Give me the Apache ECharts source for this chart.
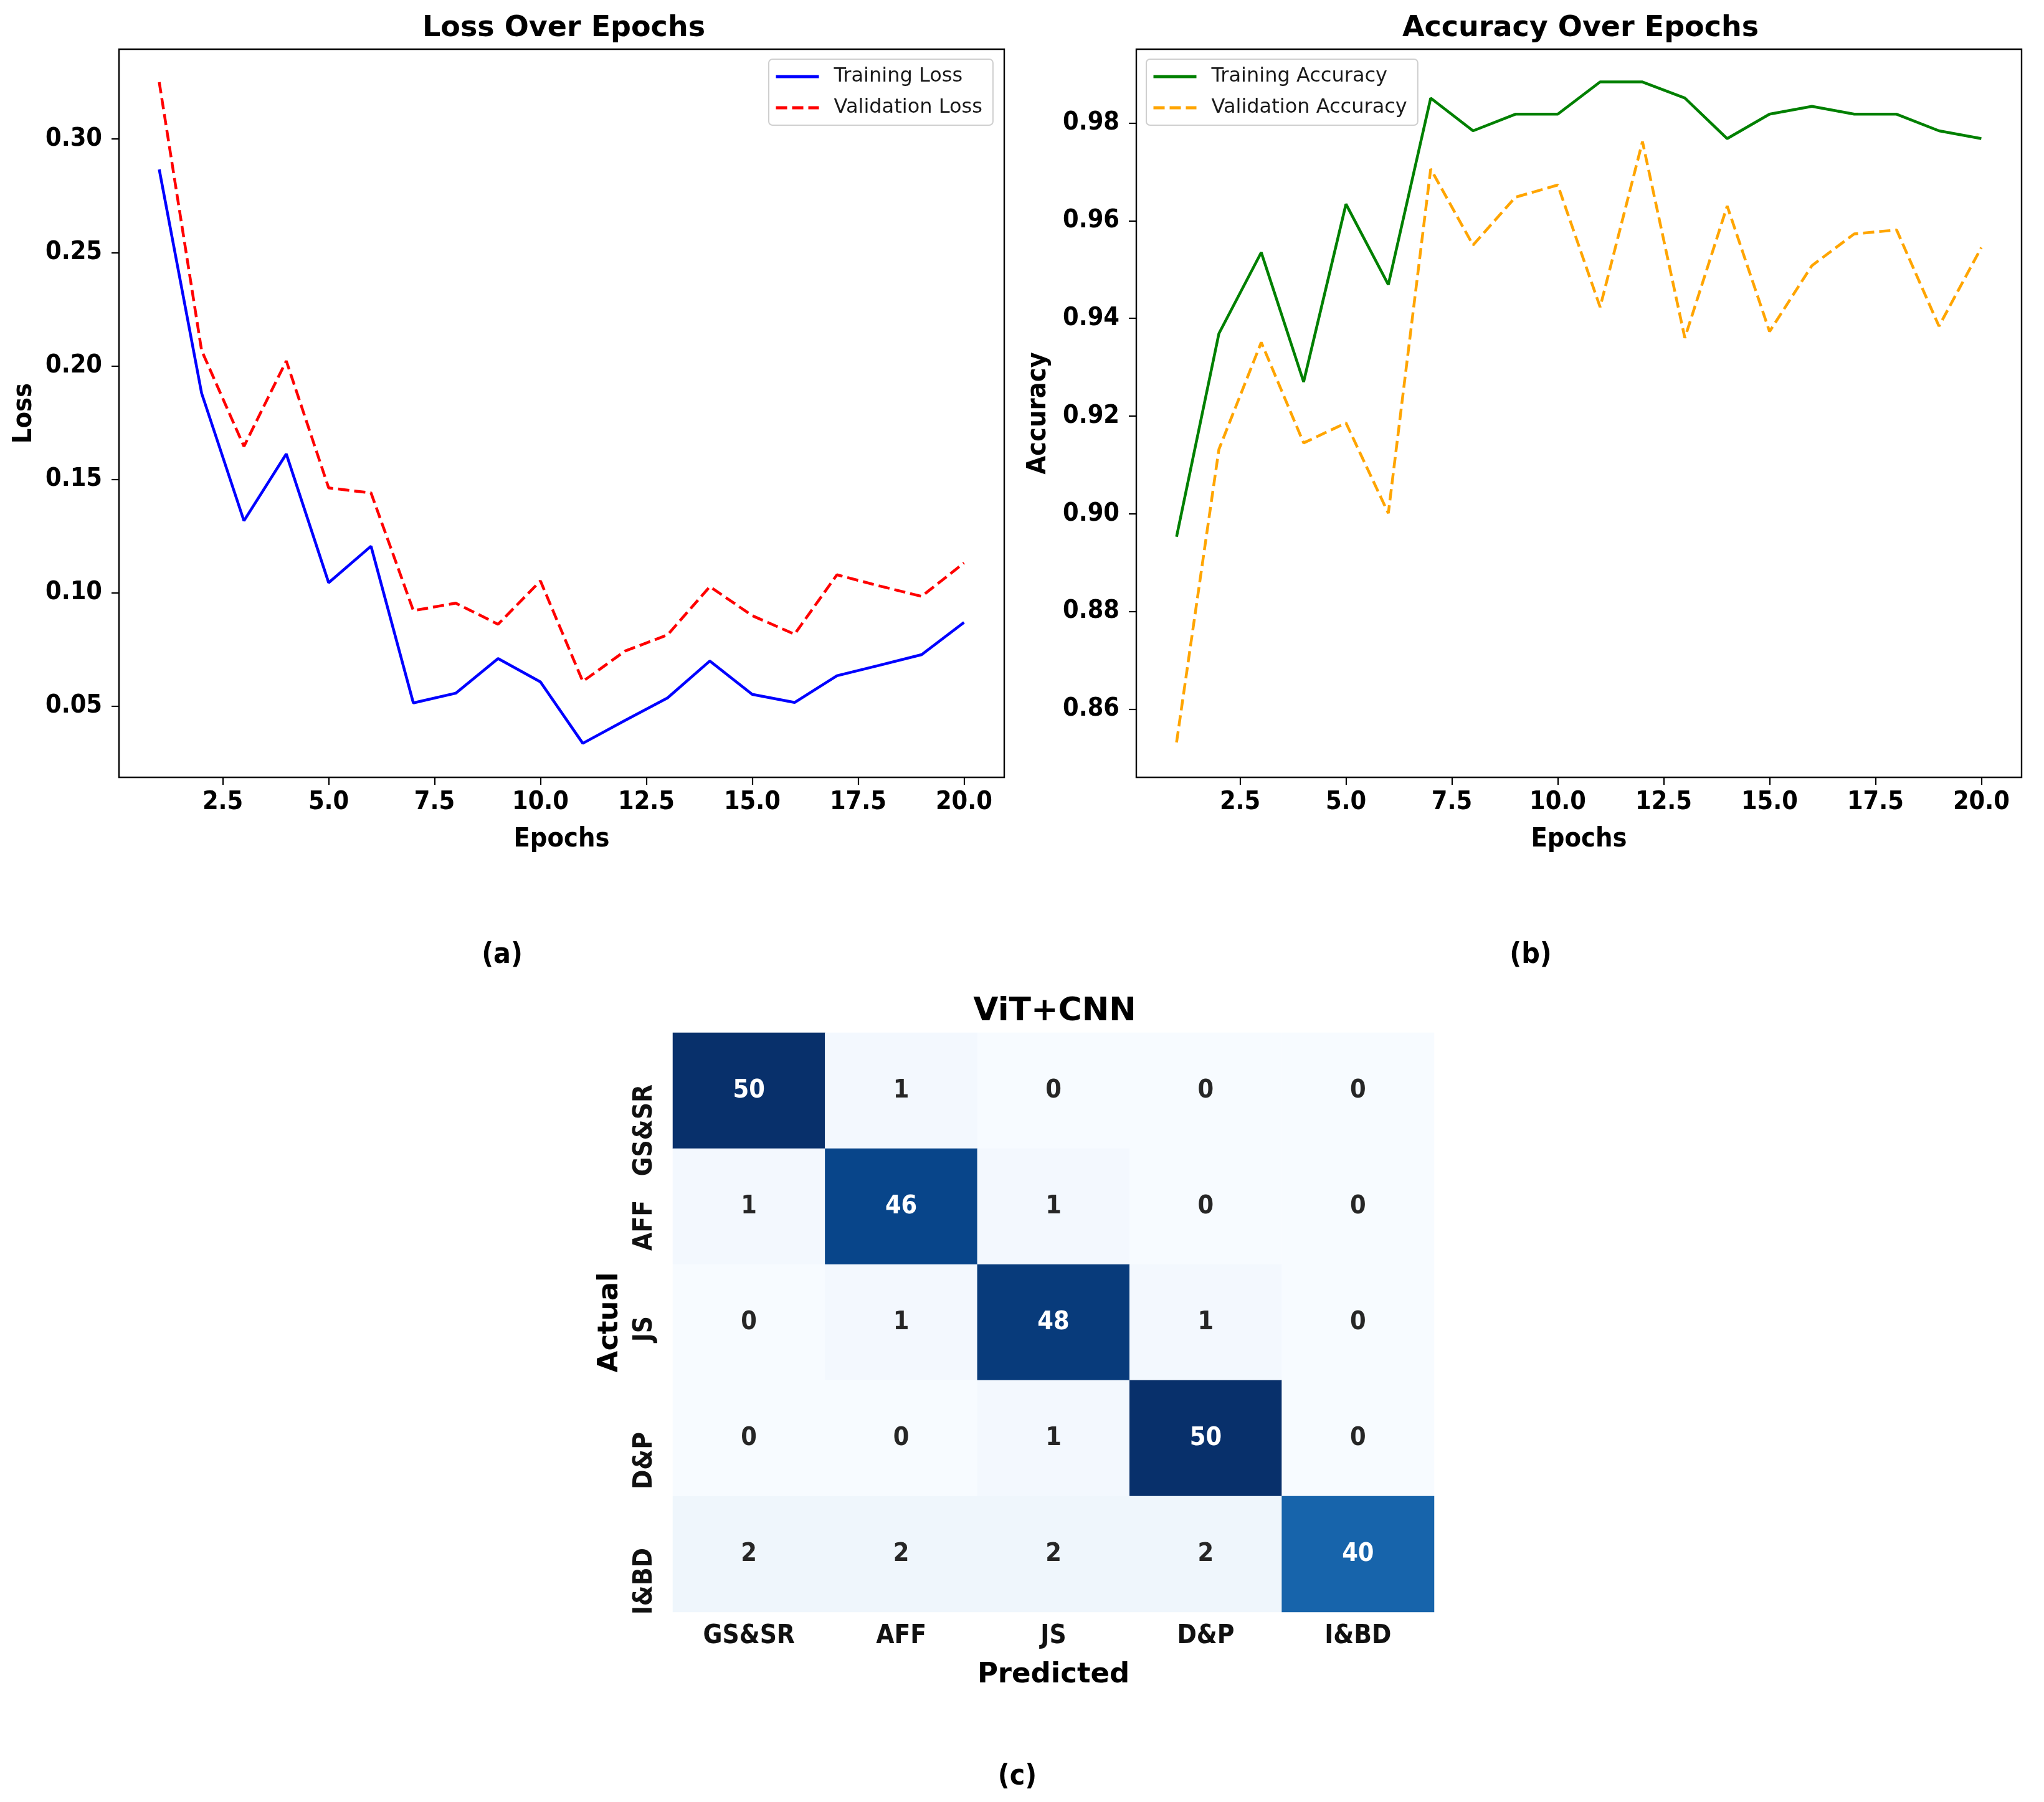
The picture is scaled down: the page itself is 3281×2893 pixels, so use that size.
<!DOCTYPE html>
<html><head><meta charset="utf-8">
<style>html,body{margin:0;padding:0;background:#fff}#c{width:3281px;height:2893px}</style>
<script src="https://cdn.jsdelivr.net/npm/echarts@6/dist/echarts.min.js"></script>
</head><body><div id="c"></div>
<script>
const epochs=[1,2,3,4,5,6,7,8,9,10,11,12,13,14,15,16,17,18,19,20];
const trainLoss=[.2866,.188,.1317,.1612,.1044,.1205,.0514,.0557,.071,.0607,.0336,.0437,.0536,.0699,.0552,.0516,.0634,.068,.0727,.0869];
const valLoss=[.3251,.2068,.1645,.2022,.1462,.144,.0921,.0954,.0861,.1052,.0609,.0743,.0814,.1027,.0899,.0817,.1079,.103,.0984,.1131];
const trainAcc=[.8953,.9369,.9535,.927,.9634,.9469,.9851,.9784,.9818,.9818,.9884,.9884,.9851,.9768,.9818,.9834,.9818,.9818,.9784,.9768];
const valAcc=[.8532,.9132,.9351,.9145,.9186,.9001,.9706,.955,.9648,.9673,.9423,.9762,.936,.963,.9373,.9508,.9573,.9581,.9384,.9545];
const xTicks=[2.5,5,7.5,10,12.5,15,17.5,20];
const lossTicks=[.05,.1,.15,.2,.25,.3];
const accTicks=[.86,.88,.9,.92,.94,.96,.98];
const classes=['GS&SR','AFF','JS','D&P','I&BD'];
const matrix=[[50,1,0,0,0],[1,46,1,0,0],[0,1,48,1,0],[0,0,1,50,0],[2,2,2,2,40]];
const blues=['#f7fbff','#deebf7','#c6dbef','#9ecae1','#6baed6','#4292c6','#2171b5','#08519c','#08306b'];

const FONT='DejaVu Sans',COND='DejaVu Sans Condensed';
const zip=a=>epochs.map((e,i)=>[e,a[i]]);
const bold=(s,f)=>({fontFamily:f||FONT,fontWeight:'bold',fontSize:s,color:'#000'});
const head=(text,x,y,s,f)=>({text,left:x,top:y,textAlign:'center',textVerticalAlign:'middle',textStyle:bold(s,f)});
const tick={length:12,lineStyle:{width:2.2,color:'#000'}};
const xAxis=(g)=>({type:'value',gridIndex:g,min:.05,max:20.95,name:'Epochs',nameLocation:'middle',nameGap:78,nameTextStyle:bold(43,COND),
  splitLine:{show:false},axisLine:{show:false},
  axisTick:{...tick,customValues:xTicks},
  axisLabel:{...bold(41,COND),margin:20,customValues:xTicks,formatter:v=>v.toFixed(1)}});
const yAxis=(g,min,max,ticks,name,gap)=>({type:'value',gridIndex:g,min,max,name,nameLocation:'middle',nameGap:gap,nameTextStyle:bold(43,COND),
  splitLine:{show:false},axisLine:{show:false},
  axisTick:{...tick,customValues:ticks},
  axisLabel:{...bold(41,COND),margin:27,customValues:ticks,formatter:v=>v.toFixed(2)}});
const line=(name,data,g,color,dash)=>({type:'line',name,data:zip(data),xAxisIndex:g,yAxisIndex:g,showSymbol:false,symbol:'none',
  lineStyle:{color,width:4.5,type:dash?[18,8]:'solid',cap:'butt'},itemStyle:{color},z:3});
const legend=(names,left,top)=>({data:names,left,top,orient:'vertical',itemWidth:69,itemHeight:14,itemGap:18,padding:[12,17,12,9],
  borderColor:'#cfcfcf',borderWidth:2,borderRadius:6,backgroundColor:'rgba(255,255,255,.85)',selectedMode:false,z:10,
  itemStyle:{opacity:0},lineStyle:{width:5},
  textStyle:{fontFamily:FONT,fontSize:32,color:'#1a1a1a',padding:[0,0,0,19]}});
const cells=[];
matrix.forEach((r,i)=>r.forEach((v,j)=>cells.push({value:[j,i,v],label:{color:v>25?'#fff':'#262626'}})));

const chart=echarts.init(document.getElementById('c'),null,{renderer:'canvas',width:3281,height:2893});
chart.setOption({
  animation:false,backgroundColor:'#fff',
  title:[head('Loss Over Epochs',900,41,46),head('Accuracy Over Epochs',2532,41,46),
    head('(a)',801,1529,46,COND),head('(b)',2452,1529,46,COND),head('(c)',1628,2848,46,COND),head('ViT+CNN',1688,1619,52)],
  legend:[legend(['Training Loss','Validation Loss'],1234,95),legend(['Training Accuracy','Validation Accuracy'],1840,95)],
  grid:[
    {left:191,width:1421,top:79,height:1169,show:true,borderColor:'#000',borderWidth:2.4,backgroundColor:'#fff'},
    {left:1824,width:1421,top:79,height:1169,show:true,borderColor:'#000',borderWidth:2.4,backgroundColor:'#fff'},
    {left:1080,width:1222,top:1658,height:930},
    {left:1080,width:1222,top:1648,height:930}
  ],
  xAxis:[xAxis(0),xAxis(1),
    {type:'category',gridIndex:2,data:classes,name:'Predicted',nameLocation:'middle',nameGap:79,nameTextStyle:bold(45),
     axisLine:{show:false},splitLine:{show:false},axisTick:{alignWithLabel:true,...tick},
     axisLabel:{...bold(42,COND),color:'#111',margin:18,interval:0}},
    {type:'category',gridIndex:3,data:classes,show:false}],
  yAxis:[yAxis(0,.0186,.3396,lossTicks,'Loss',131),yAxis(1,.84605,.9951,accTicks,'Accuracy',136),
    {type:'category',gridIndex:2,data:classes,inverse:true,name:'Actual',nameLocation:'middle',nameGap:78,nameTextStyle:bold(45),
     axisLine:{show:false},splitLine:{show:false},axisTick:{alignWithLabel:true,...tick},axisLabel:{show:false}},
    {type:'category',gridIndex:3,data:classes,inverse:true,
     axisLine:{show:false},splitLine:{show:false},axisTick:{show:false},
     axisLabel:{...bold(42,COND),color:'#111',rotate:90,margin:24,interval:0,align:'right',verticalAlign:'bottom'}}],
  visualMap:{show:false,min:0,max:50,seriesIndex:4,dimension:2,inRange:{color:blues}},
  series:[
    line('Training Loss',trainLoss,0,'#0000ff',false),
    line('Validation Loss',valLoss,0,'#ff0000',true),
    line('Training Accuracy',trainAcc,1,'#008000',false),
    line('Validation Accuracy',valAcc,1,'#ffa500',true),
    {type:'heatmap',xAxisIndex:2,yAxisIndex:2,data:cells,
     label:{show:true,fontFamily:COND,fontWeight:'bold',fontSize:41,formatter:p=>String(p.value[2])},
     itemStyle:{borderWidth:0},emphasis:{disabled:true}}
  ]
});
</script></body></html>
